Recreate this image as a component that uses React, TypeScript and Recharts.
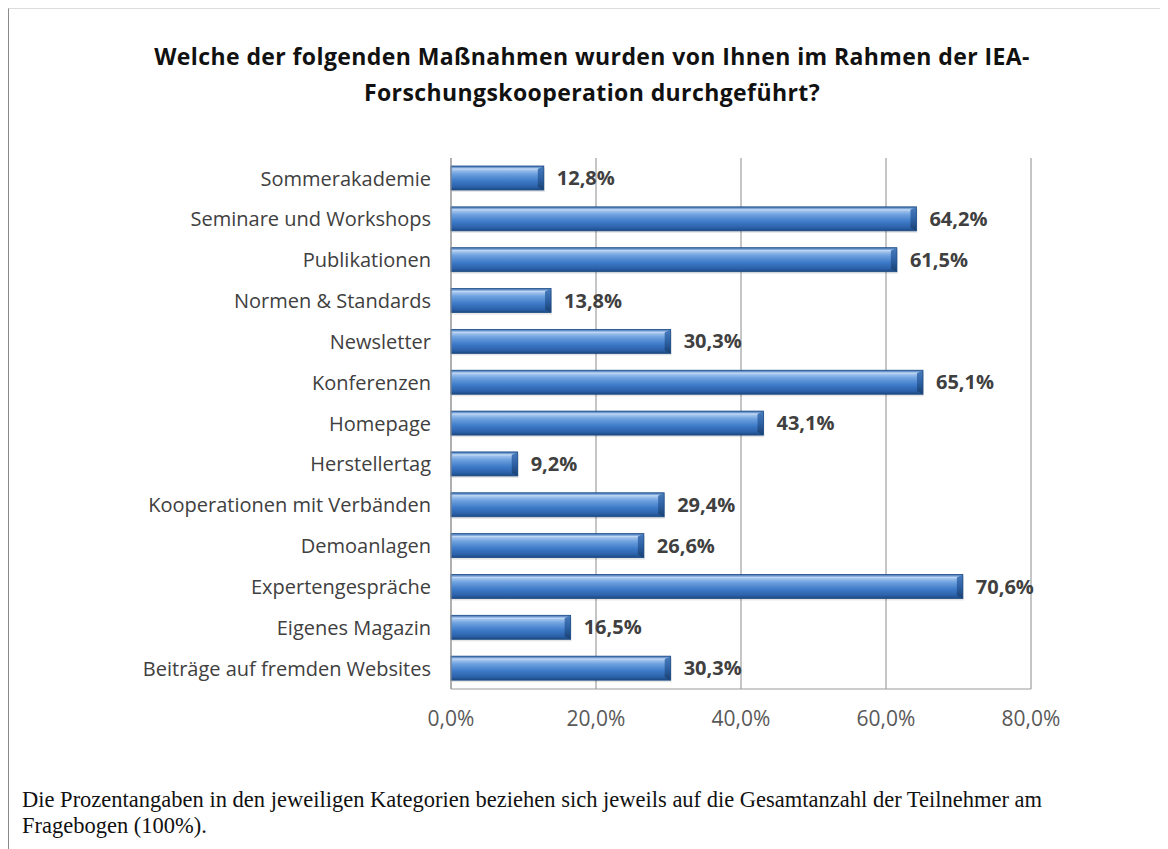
import { BarChart, Bar, XAxis, YAxis, CartesianGrid, LabelList } from 'recharts';

const categories = [
  'Sommerakademie',
  'Seminare und Workshops',
  'Publikationen',
  'Normen & Standards',
  'Newsletter',
  'Konferenzen',
  'Homepage',
  'Herstellertag',
  'Kooperationen mit Verbänden',
  'Demoanlagen',
  'Expertengespräche',
  'Eigenes Magazin',
  'Beiträge auf fremden Websites',
];

const shares = [12.8, 64.2, 61.5, 13.8, 30.3, 65.1, 43.1, 9.2, 29.4, 26.6, 70.6, 16.5, 30.3];

const xTicks = [0, 20, 40, 60, 80];

const data = categories.map((name, i) => ({ name, value: shares[i] }));

const pct = (v: number) => `${v.toFixed(1).replace('.', ',')}%`;

const FONT = '"Open Sans", Lato, sans-serif';

function CylinderBar(props: any) {
  const { x, y, width, height } = props;
  if (!width || width <= 0) return null;
  const cap = Math.min(6, width / 2);
  return (
    <g>
      <rect x={x + 1} y={y + 2} width={width} height={height} fill="#000" opacity={0.1} />
      <rect x={x} y={y} width={width} height={height} fill="url(#barGrad)" />
      <polygon
        points={`${x + width - cap},${y + 3} ${x + width},${y} ${x + width},${y + height} ${x + width - cap},${y + height - 3}`}
        fill="url(#capGrad)"
      />
      <line x1={x + 2} y1={y + 3} x2={x + width - cap} y2={y + 3} stroke="#c4dbf5" strokeWidth={1} opacity={0.9} />
      <rect x={x} y={y} width={width} height={height} fill="none" stroke="#1d4c86" strokeWidth={0.8} />
    </g>
  );
}

export default function App() {
  return (
    <div
      style={{
        position: 'relative',
        width: 1160,
        height: 841,
        borderLeft: '1px solid #8a8a8a',
        borderTop: '1px solid #dcdcdc',
        boxSizing: 'border-box',
        background: '#fff',
      }}
    >
      <div
        style={{
          position: 'absolute',
          top: 29,
          left: 0,
          width: 1166,
          textAlign: 'center',
          fontFamily: FONT,
          fontWeight: 700,
          fontSize: 23,
          letterSpacing: 0.4,
          lineHeight: '36px',
          color: '#111',
        }}
      >
        Welche der folgenden Maßnahmen wurden von Ihnen im Rahmen der IEA-
        <br />
        Forschungskooperation durchgeführt?
      </div>

      <div style={{ position: 'absolute', top: 0, left: 0 }}>
        <BarChart
          width={1158}
          height={730}
          data={data}
          layout="vertical"
          barSize={24}
          margin={{ top: 149, right: 136, bottom: 10, left: 0 }}
        >
          <defs>
            <linearGradient id="barGrad" x1="0" y1="0" x2="0" y2="1">
              <stop offset="0%" stopColor="#3469ae" />
              <stop offset="12%" stopColor="#b0cdf1" />
              <stop offset="32%" stopColor="#6fa2df" />
              <stop offset="62%" stopColor="#3d7ac8" />
              <stop offset="88%" stopColor="#2b60a8" />
              <stop offset="100%" stopColor="#1b477e" />
            </linearGradient>
            <linearGradient id="capGrad" x1="0" y1="0" x2="0" y2="1">
              <stop offset="0%" stopColor="#4a7dbd" />
              <stop offset="50%" stopColor="#2e62a5" />
              <stop offset="100%" stopColor="#193f70" />
            </linearGradient>
          </defs>
          <CartesianGrid horizontal={false} stroke="#8c8c8c" strokeWidth={1} />
          <XAxis
            type="number"
            domain={[0, 80]}
            ticks={xTicks}
            tickFormatter={pct}
            axisLine={{ stroke: '#9a9a9a' }}
            tickLine={false}
            tickMargin={16}
            height={40}
            tick={{ fill: '#595959', fontSize: 21, fontFamily: FONT }}
          />
          <YAxis
            type="category"
            dataKey="name"
            width={442}
            axisLine={{ stroke: '#9a9a9a' }}
            tickLine={false}
            tickSize={0}
            tickMargin={20}
            interval={0}
            tick={{ fill: '#404040', fontSize: 20, fontFamily: FONT }}
          />
          <Bar dataKey="value" shape={<CylinderBar />} isAnimationActive={false}>
            <LabelList
              dataKey="value"
              position="right"
              offset={13}
              formatter={(v: any) => pct(Number(v))}
              style={{ fill: '#404040', fontSize: 20, fontWeight: 700, fontFamily: FONT }}
            />
          </Bar>
        </BarChart>
      </div>

      <div
        style={{
          position: 'absolute',
          top: 778,
          left: 13,
          fontFamily: '"Liberation Serif", "Times New Roman", serif',
          fontSize: 22.5,
          lineHeight: '26px',
          color: '#111',
        }}
      >
        Die Prozentangaben in den jeweiligen Kategorien beziehen sich jeweils auf die Gesamtanzahl der Teilnehmer am
        <br />
        Fragebogen (100%).
      </div>
    </div>
  );
}
